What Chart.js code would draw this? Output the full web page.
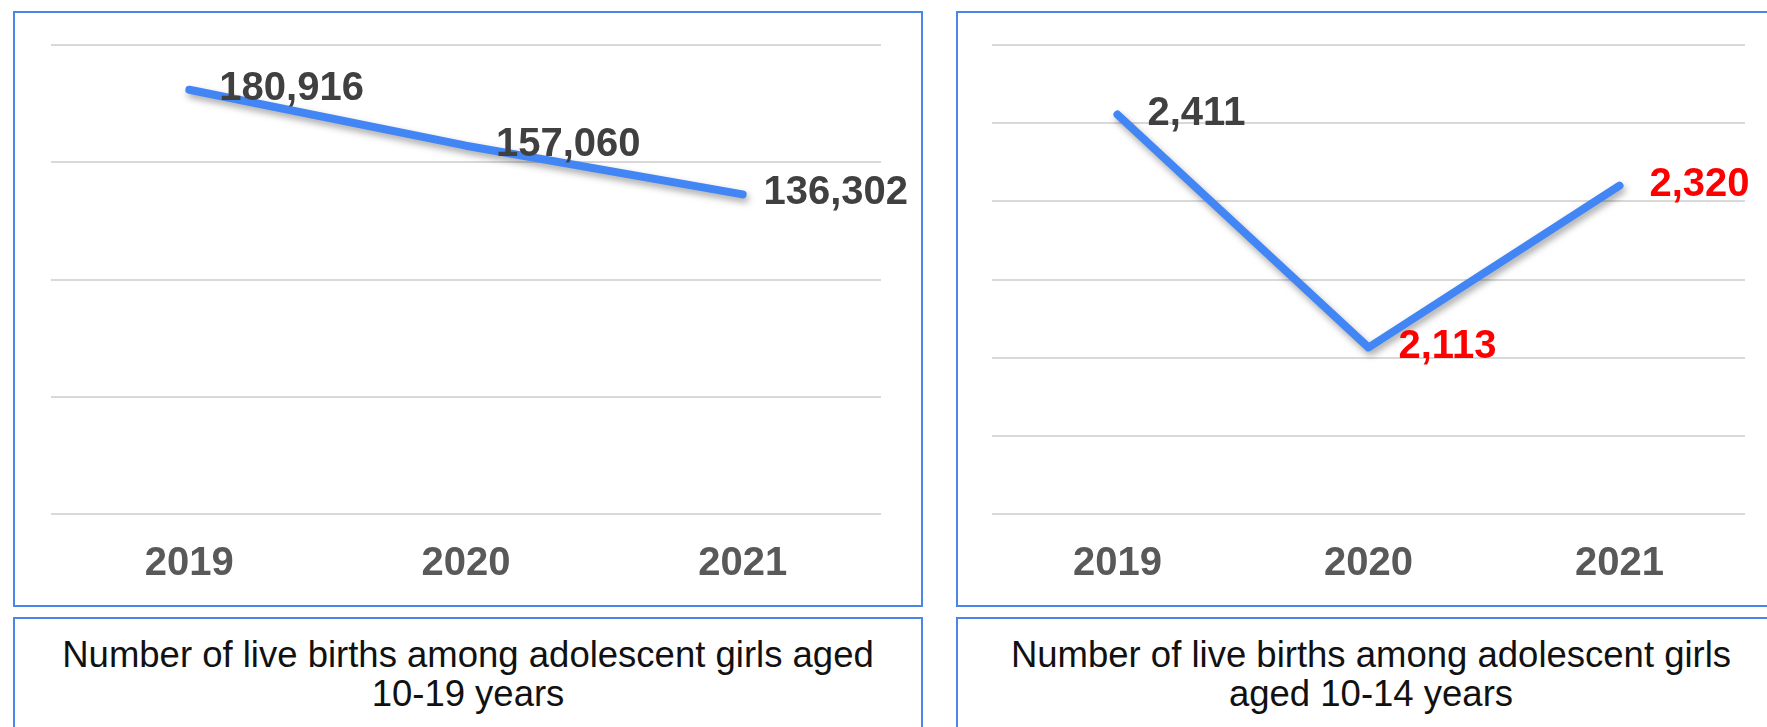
<!DOCTYPE html>
<html>
<head>
<meta charset="utf-8">
<script src="https://cdn.jsdelivr.net/npm/chart.js@4"></script>
<style>
  html, body { margin: 0; padding: 0; background: #fff; overflow: hidden; }
  body { width: 1767px; height: 727px; position: relative; font-family: "Liberation Sans", Arial, sans-serif; }
  .box { position: absolute; border: 2px solid #4a86e8; box-sizing: border-box; background: #fff; }
  .box canvas { display: block; }
  .caption { text-align: center; font-size: 36.5px; line-height: 39px; color: #111; padding-top: 16px; }
</style>
</head>
<body>
<div class="box" style="left:13px; top:11px; width:910px; height:596px;">
  <canvas id="chartAll" width="906" height="592"></canvas>
</div>
<div class="box" style="left:956px; top:11px; width:830px; height:596px;">
  <canvas id="chartYoung" width="826" height="592"></canvas>
</div>
<div class="box caption" style="left:13px; top:617px; width:910px; height:130px;">
  Number of live births among adolescent girls aged<br>10-19 years
</div>
<div class="box caption" style="left:956px; top:617px; width:830px; height:130px;">
  Number of live births among adolescent girls<br>aged 10-14 years
</div>

<script>
// data
const years = ["2019", "2020", "2021"];
const births10to19 = [180916, 157060, 136302];
const births10to14 = [2411, 2113, 2320];

// label colours (red marks the 10-14 values after 2019)
const labelColors10to19 = ["#404040", "#404040", "#404040"];
const labelColors10to14 = ["#404040", "#ff0000", "#ff0000"];

const lineBlue = "#4285f4";
const font = "'Liberation Sans', Arial, sans-serif";

// soft shadow under the line, like the office chart
const shadowPlugin = {
    id: "lineShadow",
    beforeDatasetsDraw(chart) {
        const ctx = chart.ctx;
        ctx.save();
        ctx.shadowColor = "rgba(0,0,0,0.35)";
        ctx.shadowBlur = 7;
        ctx.shadowOffsetX = 2;
        ctx.shadowOffsetY = 4;
    },
    afterDatasetsDraw(chart) {
        chart.ctx.restore();
    }
};

// value labels to the right of each point
const valueLabels = {
    id: "valueLabels",
    afterDatasetsDraw(chart, args, opts) {
        const ctx = chart.ctx;
        const meta = chart.getDatasetMeta(0);
        const data = chart.data.datasets[0].data;
        ctx.save();
        ctx.font = "bold 40px " + font;
        ctx.textAlign = "left";
        ctx.textBaseline = "middle";
        meta.data.forEach((pt, i) => {
            const txt = data[i].toLocaleString("en-US");
            const w = ctx.measureText(txt).width;
            let x = pt.x + 30;
            if (x + w > chart.width - 13) x = chart.width - 13 - w;
            ctx.fillStyle = opts.colors[i];
            ctx.fillText(txt, x, pt.y - 1);
        });
        ctx.restore();
    }
};

function makeChart(id, values, yMin, yMax, step, colors, pad) {
    new Chart(document.getElementById(id), {
        type: "line",
        data: {
            labels: years,
            datasets: [{
                data: values,
                borderColor: lineBlue,
                borderWidth: 8,
                borderCapStyle: "round",
                borderJoinStyle: "round",
                pointRadius: 0,
                tension: 0,
                fill: false
            }]
        },
        options: {
            responsive: false,
            animation: false,
            layout: { padding: pad },
            plugins: {
                legend: { display: false },
                tooltip: { enabled: false },
                valueLabels: { colors: colors }
            },
            scales: {
                x: {
                    offset: true,
                    grid: { display: false, drawTicks: false },
                    border: { display: false },
                    ticks: {
                        color: "#595959",
                        padding: 26,
                        font: { family: font, size: 40, weight: "bold" }
                    }
                },
                y: {
                    min: yMin,
                    max: yMax,
                    ticks: { display: false, stepSize: step },
                    grid: { color: "#d9d9d9", lineWidth: 2, drawTicks: false },
                    border: { display: false }
                }
            }
        },
        plugins: [shadowPlugin, valueLabels]
    });
}

makeChart("chartAll", births10to19, 0, 200000, 50000, labelColors10to19,
    { left: 36, right: 40, top: 32, bottom: -9 });
makeChart("chartYoung", births10to14, 1900, 2500, 100, labelColors10to14,
    { left: 34, right: 39, top: 32, bottom: -9 });
</script>
</body>
</html>
